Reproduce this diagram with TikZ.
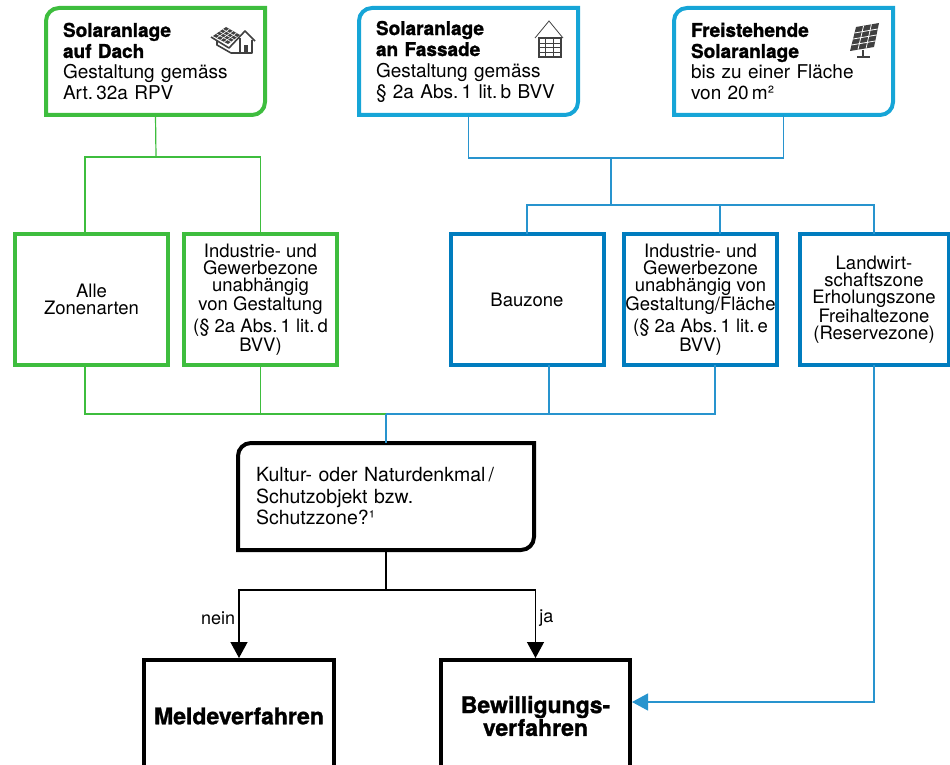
\documentclass[tikz,border=0pt]{standalone}
\usepackage{fontspec}
\setmainfont{TeX Gyre Heros}[BoldFeatures={FakeBold=1.3}]
\usetikzlibrary{positioning,arrows.meta,calc}

\definecolor{gruen}{RGB}{62,189,62}
\definecolor{hellblau}{RGB}{22,165,215}
\definecolor{dunkelblau}{RGB}{0,124,190}
\definecolor{linienblau}{RGB}{40,148,206}
\definecolor{ikon}{RGB}{64,64,64}

\newcommand{\ecken}[2]{%
  \draw[#2] (#1.south west) -- ([yshift=-13pt]#1.north west)
    .. controls ([yshift=-5.8pt]#1.north west) and ([xshift=5.8pt]#1.north west) .. ([xshift=13pt]#1.north west)
    -- (#1.north east) -- ([yshift=13pt]#1.south east)
    .. controls ([yshift=5.8pt]#1.south east) and ([xshift=-5.8pt]#1.south east) .. ([xshift=-13pt]#1.south east)
    -- cycle;}

\begin{document}
\begin{tikzpicture}[x=1pt, y=-1pt,
    kopf/.style={rectangle, outer sep=0pt, inner xsep=17pt, inner ysep=0pt, text width=185pt,
                 minimum height=107pt, align=left, font=\fontsize{19}{21}\selectfont},
    zone/.style={rectangle, draw, line width=4pt, outer sep=0pt, inner sep=1pt, minimum width=153pt,
                 minimum height=131pt, align=center, font=\fontsize{18.5}{17}\selectfont},
    frage/.style={rectangle, outer sep=0pt, inner xsep=18pt, inner ysep=0pt, text width=260pt,
                 minimum height=107pt, align=left, font=\fontsize{19.5}{21.5}\selectfont},
    verfahren/.style={rectangle, draw=black, line width=4pt, outer sep=0pt, minimum width=190pt,
                 minimum height=112pt, align=center, font=\fontsize{23}{21}\bfseries},
    glinie/.style={gruen, line width=1.2pt},
    blinie/.style={linienblau, line width=1.2pt},
    klinie/.style={black, line width=1.3pt},
    pfeil/.style={klinie, -{Triangle[length=16pt,width=17pt]}, shorten >=2pt},
    bpfeil/.style={blinie, -{Triangle[length=16pt,width=17pt]}, shorten >=2pt}]

\path[use as bounding box] (0,0) rectangle (950,765);
\clip (0,0) rectangle (950,765);

\node[kopf] (dach) at (155.5,61.5) {\textbf{Solaranlage}\\\textbf{auf Dach}\\Gestaltung gemäss\\Art.\,32a RPV};
\node[kopf] (fas) at (468.5,61.5) {\textbf{Solaranlage}\\\textbf{an Fassade}\\Gestaltung gemäss\\§ 2a Abs.\,1 lit.\,b BVV};
\node[kopf] (frei) at (783.5,61.5) {\textbf{Freistehende}\\\textbf{Solaranlage}\\bis zu einer Fläche\\von 20\,m²};
\ecken{dach}{gruen, line width=4pt}
\ecken{fas}{hellblau, line width=4pt}
\ecken{frei}{hellblau, line width=4pt}

\node[zone, draw=gruen] (alle) at (91.5,299.5) {Alle\\Zonenarten};
\node[zone, draw=gruen] (indg) at (260.5,299.5) {Industrie- und\\Gewerbezone\\unabhängig\\von Gestaltung\\[4pt](§ 2a Abs.\,1 lit.\,d\\BVV)};
\node[zone, draw=dunkelblau] (bau) at (527,299.5) {Bauzone};
\node[zone, draw=dunkelblau] (indb) at (700.5,299.5) {Industrie- und\\Gewerbezone\\unabhängig von\\Gestaltung/Fläche\\[4pt](§ 2a Abs.\,1 lit.\,e\\BVV)};
\node[zone, draw=dunkelblau, minimum width=149pt] (land) at (874,299.5) {Landwirt-\\schaftszone\\Erholungszone\\Freihaltezone\\(Reservezone)};

\node[frage] (frage) at (386,496.5) {Kultur- oder Naturdenkmal\,/\\Schutzobjekt bzw.\\Schutzzone?¹};
\ecken{frage}{black, line width=4pt}

\node[verfahren] (meld) at (239,716) {Meldeverfahren};
\node[verfahren, minimum width=189pt] (bew) at (535.5,716) {Bewilligungs-\\verfahren};

\coordinate (gj) at (156,157);
\coordinate (bj) at (611,158);
\coordinate (bk) at (611,205);
\coordinate (mj) at (386,414);
\coordinate (fj) at (386,590);

\draw[glinie] (dach.south) -- (gj);
\draw[glinie] ([xshift=-6.5pt]alle.north) |- (gj) -| (indg.north);
\draw[blinie] (fas.south) |- (bj) -| (frei.south);
\draw[blinie] (bj) -- (bk);
\draw[blinie] (bau.north) |- (bk) -| (land.north);
\draw[blinie] ([xshift=19.5pt]indb.north) |- (bk);

\draw[glinie] ([xshift=-6.5pt]alle.south) |- (mj);
\draw[glinie] (indg.south) |- (mj);
\draw[blinie] ([xshift=14.5pt]indb.south) |- (mj);
\draw[blinie] ([xshift=22pt]bau.south) |- (mj);
\draw[blinie] (mj) -- (frage.north);

\draw[klinie] (frage.south) -- (fj);
\draw[pfeil] (fj) -| node[pos=0.7, left, font=\fontsize{18}{20}\selectfont] {nein} (meld.north);
\draw[pfeil] (fj) -| node[pos=0.7, right, font=\fontsize{18}{20}\selectfont] {ja} (bew.north);
\draw[bpfeil] (land.south) |- ([yshift=14pt]bew.east);

% Haus
\fill[ikon] (213,36) -- (226,27) -- (240,35) -- (228,44) -- cycle;
\foreach \t in {0.25,0.5,0.75} {
  \draw[white, line width=0.6pt] ($(213,36)!\t!(226,27)$) -- ($(228,44)!\t!(240,35)$);
  \draw[white, line width=0.6pt] ($(226,27)!\t!(240,35)$) -- ($(213,36)!\t!(228,44)$);
}
\draw[ikon, line width=1.6pt, line join=round] (211,37) -- (229,48) -- (245,31) -- (255,41);
\draw[ikon, line width=1.6pt, line join=round] (217,41) -- (217,45) -- (231,53) -- (252,53) -- (252,40);
\draw[ikon, line width=1.6pt] (240,38) -- (240,53);
\fill[ikon] (244,45) rectangle (248,53);

% Fassade
\draw[ikon, line width=0.8pt] (535,38) -- (549,21) -- (563,38);
\draw[ikon, line width=2pt] (538.5,38.5) rectangle (560.5,57.5);
\foreach \gx in {545.8,553.2} \draw[ikon, line width=1pt] (\gx,38.5) -- (\gx,57.5);
\foreach \gy in {43.5,48,52.5} \draw[ikon, line width=1pt] (538.5,\gy) -- (560.5,\gy);

% Panel
\fill[ikon] (856,27) -- (879,23) -- (874,47) -- (850,51) -- cycle;
\foreach \t in {0.33,0.67}
  \draw[white, line width=0.8pt] ($(856,27)!\t!(879,23)$) -- ($(850,51)!\t!(874,47)$);
\foreach \t in {0.25,0.5,0.75}
  \draw[white, line width=0.8pt] ($(856,27)!\t!(850,51)$) -- ($(879,23)!\t!(874,47)$);
\draw[ikon, line width=2.5pt] (863,50) -- (863,56);
\draw[ikon, line width=2.5pt] (857,57) -- (870,57);
\end{tikzpicture}
\end{document}
